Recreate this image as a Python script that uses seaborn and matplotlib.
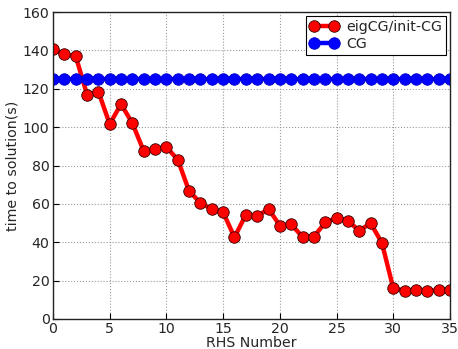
import numpy as np
import pandas as pd
import seaborn as sns
import matplotlib
matplotlib.use("Agg")
import matplotlib.pyplot as plt

rhs = list(range(36))
eigcg = [140.7, 138, 137, 117, 118.5, 101.6, 112, 102, 87.5, 88.7, 89.6, 83,
         66.7, 60.5, 57.3, 55.6, 42.6, 54.3, 53.5, 57.4, 48.7, 49.3, 42.8, 42.9,
         50.3, 52.7, 51.3, 45.9, 50, 39.6, 16, 14.8, 14.9, 14.7, 15, 15.2]
cg = [125] * 36
series_names = ["eigCG/init-CG", "CG"]
colors = ["#ff0000", "#0000ff"]

df = pd.DataFrame({
    "RHS Number": rhs * 2,
    "time": eigcg + cg,
    "series": [series_names[0]] * 36 + [series_names[1]] * 36,
})

sns.set_style("ticks")
plt.rcParams["font.family"] = ["DejaVu Sans"]
FS = 10.2

fig = plt.figure(figsize=(4.58, 3.49), dpi=100)
ax = fig.add_axes([53/458, 1 - 319/349, (450-53)/458, (319-12)/349])

sns.lineplot(data=df, x="RHS Number", y="time", hue="series",
             palette=dict(zip(series_names, colors)), marker="o",
             markersize=8.3, markeredgecolor="#330000", markeredgewidth=0.6,
             linewidth=3.2, ax=ax, legend=False)
for line in ax.lines:
    c = matplotlib.colors.to_hex(line.get_color())
    if c == "#0000ff":
        line.set_markeredgecolor("#0000cc")
        line.set_label("CG")
    elif c == "#ff0000":
        line.set_label("eigCG/init-CG")

ax.set_xlim(0, 35)
ax.set_ylim(0, 160)
ax.set_xticks(range(0, 36, 5))
ax.set_yticks(range(0, 161, 20))
ax.grid(True, linestyle=":", color="#999999", linewidth=0.8)
ax.set_xlabel("RHS Number", fontsize=FS, labelpad=0)
ax.set_ylabel("time to solution(s)", fontsize=FS, labelpad=2)
ax.tick_params(labelsize=FS, direction="in", length=4, color="black", pad=2.5)
for s in ax.spines.values():
    s.set_visible(True)
    s.set_color("#222222")
    s.set_linewidth(1)

leg = ax.legend(loc="upper right", fontsize=FS, frameon=True, fancybox=False,
                borderaxespad=0.3, handlelength=2.0, numpoints=2,
                borderpad=0.25, labelspacing=0.25, handletextpad=0.6)
leg.get_frame().set_edgecolor("black")
leg.get_frame().set_linewidth(0.8)
leg.get_frame().set_alpha(1)

fig.savefig("out.png", dpi=100)
